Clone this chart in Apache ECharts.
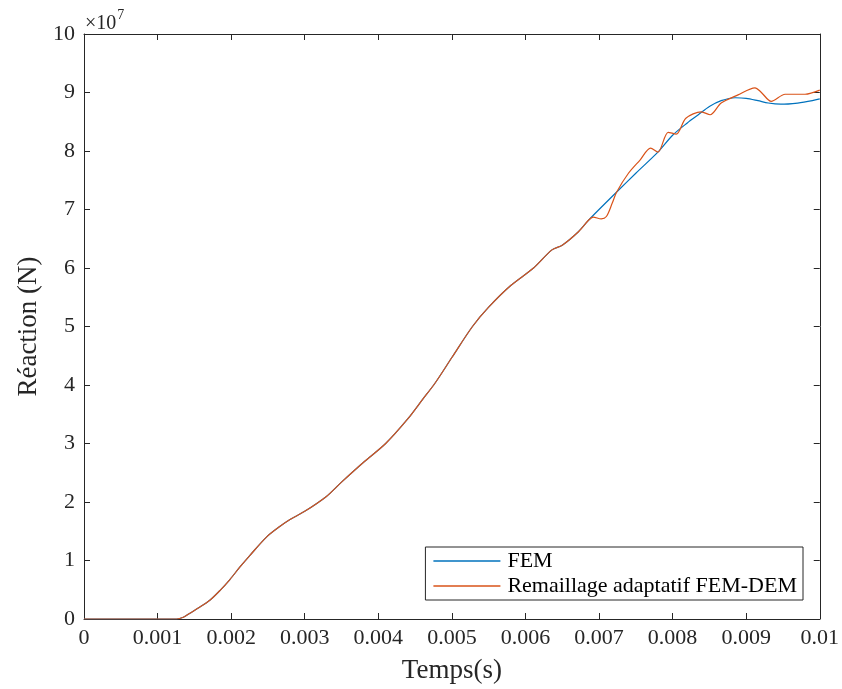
<!DOCTYPE html>
<html><head><meta charset="utf-8">
<script src="https://cdn.jsdelivr.net/npm/echarts@6/dist/echarts.min.js"></script>
<style>html,body{margin:0;padding:0;background:#fff}#c{width:842px;height:689px}</style>
</head><body><div id="c"></div>
<script>
const tFem = [0,0.0005,0.001,0.0012,0.00126,0.00135,0.00144,0.00157,0.00171,0.00185,0.00198,0.00212,0.00225,0.00248,0.00266,0.0028,0.003,0.00329,0.0035,0.0038,0.0041,0.0044,0.0046,0.00477,0.005,0.00528,0.0055,0.0058,0.00611,0.00636,0.0065,0.00672,0.00686,0.007,0.00724,0.0075,0.0078,0.008,0.0082,0.00835,0.0085,0.00866,0.00885,0.009,0.00916,0.0093,0.00947,0.0097,0.0099,0.01];
const fem = [0,0,0,0,0,0.03,0.10,0.20,0.32,0.49,0.67,0.89,1.08,1.40,1.58,1.70,1.84,2.09,2.34,2.68,3.0,3.42,3.75,4.03,4.47,5.0,5.33,5.70,6.0,6.31,6.39,6.62,6.82,7.0,7.30,7.62,7.98,8.27,8.48,8.62,8.76,8.86,8.91,8.90,8.86,8.82,8.80,8.82,8.86,8.89];
const tRem = [0,0.0005,0.001,0.0012,0.00126,0.00135,0.00144,0.00157,0.00171,0.00185,0.00198,0.00212,0.00225,0.00248,0.00266,0.0028,0.003,0.00329,0.0035,0.0038,0.0041,0.0044,0.0046,0.00477,0.005,0.00528,0.0055,0.0058,0.00611,0.00636,0.0065,0.00672,0.00686,0.00692,0.00703,0.0071,0.00718,0.00724,0.0074,0.00756,0.0077,0.0078,0.00794,0.00805,0.00818,0.00839,0.00851,0.00866,0.00889,0.00912,0.0092,0.00934,0.00953,0.0098,0.01];
const remaillage = [0,0,0,0,0,0.03,0.10,0.20,0.32,0.49,0.67,0.89,1.08,1.40,1.58,1.70,1.84,2.09,2.34,2.68,3.0,3.42,3.75,4.03,4.47,5.0,5.33,5.70,6.0,6.31,6.39,6.62,6.82,6.87,6.84,6.88,7.11,7.30,7.62,7.85,8.05,7.98,8.32,8.29,8.56,8.67,8.62,8.82,8.96,9.08,9.01,8.85,8.97,8.97,9.04];
const xTicks = ['0','0.001','0.002','0.003','0.004','0.005','0.006','0.007','0.008','0.009','0.01'];
const seriesNames = ['FEM','Remaillage adaptatif FEM-DEM'];

const FONT = 'Liberation Serif';
const C = '#262626';
const chart = echarts.init(document.getElementById('c'));
const zip = (a,b)=>a.map((v,i)=>[v,b[i]]);
const tick = {inside:true,length:6,lineStyle:{color:C}};
chart.setOption({
  animation:false,
  backgroundColor:'#fff',
  grid:{left:84,right:20,top:34,bottom:70,containLabel:false},
  xAxis:[{type:'value',min:0,max:0.01,interval:0.001,
    axisLine:{onZero:false,lineStyle:{color:C,width:1}},
    axisTick:tick,splitLine:{show:false},
    axisLabel:{fontFamily:FONT,fontSize:22,color:C,margin:8,
      formatter:(v)=>{const i=Math.round(v/0.001);return xTicks[i]!==undefined?xTicks[i]:'';}},
    name:'Temps(s)',nameLocation:'middle',nameGap:38,
    nameTextStyle:{fontFamily:FONT,fontSize:27,color:C}},
   {type:'value',position:'top',min:0,max:0.01,interval:0.001,
    axisLine:{onZero:false,lineStyle:{color:C,width:1}},
    axisTick:tick,axisLabel:{show:false},splitLine:{show:false}}],
  yAxis:[{type:'value',min:0,max:10,interval:1,
    axisLine:{show:true,onZero:false,lineStyle:{color:C,width:1}},
    axisTick:Object.assign({show:true},tick),splitLine:{show:false},
    axisLabel:{fontFamily:FONT,fontSize:22,color:C,margin:9},
    name:'Réaction (N)',nameLocation:'middle',nameGap:42,nameRotate:90,
    nameTextStyle:{fontFamily:FONT,fontSize:27,color:C}},
   {type:'value',position:'right',min:0,max:10,interval:1,
    axisLine:{show:true,onZero:false,lineStyle:{color:C,width:1}},
    axisTick:Object.assign({show:true},tick),axisLabel:{show:false},splitLine:{show:false}}],
  legend:{orient:'vertical',right:39,bottom:89,
    backgroundColor:'#fff',borderColor:C,borderWidth:1,borderRadius:0,
    padding:[3,6,3,8],itemGap:3,itemWidth:67,itemHeight:1.5,icon:'rect',
    textStyle:{fontFamily:FONT,fontSize:22,color:'#000',padding:[0,0,0,2]},
    data:seriesNames},
  graphic:[{type:'text',left:85,top:8,style:{
    text:'{a|×10}{b|7}',rich:{a:{fontFamily:FONT,fontSize:20,fill:C,verticalAlign:'bottom'},b:{fontFamily:FONT,fontSize:14,fill:C,verticalAlign:'top',padding:[0,0,12,1]}}}}],
  series:[
    {name:seriesNames[0],type:'line',data:zip(tFem,fem),smooth:0.3,symbol:'none',
      lineStyle:{color:'#0072BD',width:1.2},itemStyle:{color:'#0072BD'}},
    {name:seriesNames[1],type:'line',data:zip(tRem,remaillage),smooth:0.3,symbol:'none',
      lineStyle:{color:'#D95319',width:1.2},itemStyle:{color:'#D95319'}}
  ]
});
</script></body></html>
